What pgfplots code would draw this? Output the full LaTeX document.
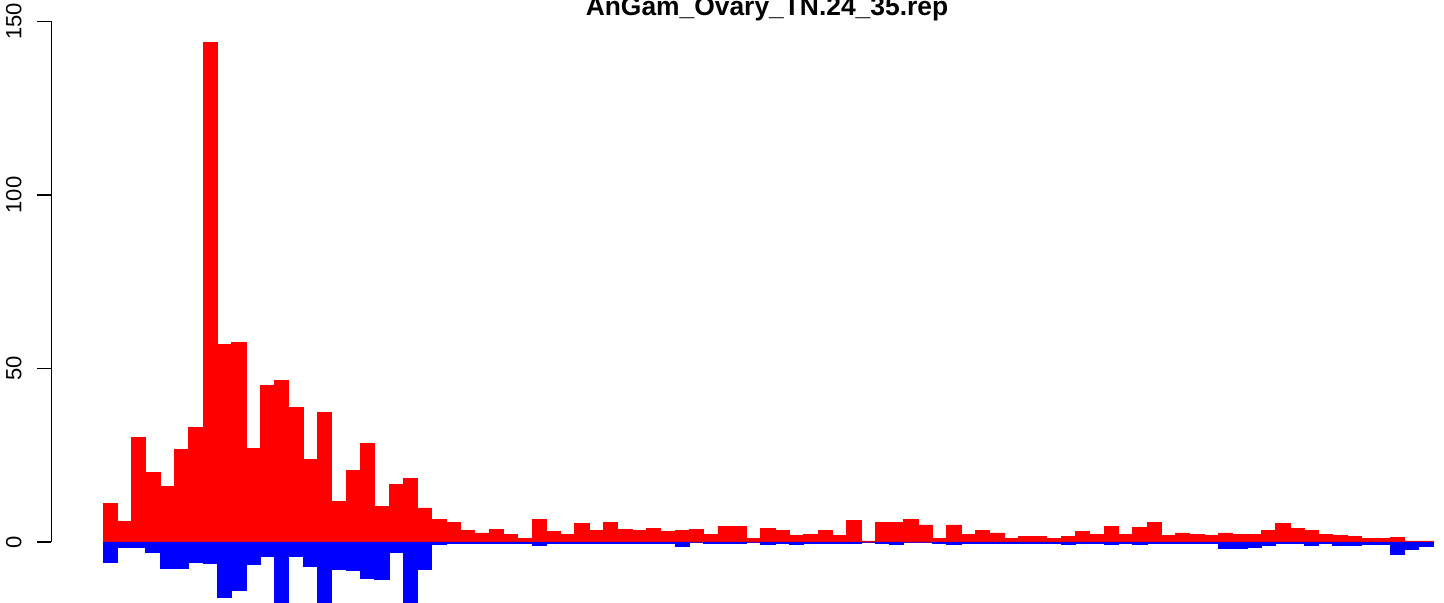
\documentclass[border=0pt]{standalone}
\usepackage{fontspec}
\setmainfont{Liberation Sans}
\usepackage{pgfplots}
\usepackage{pgfplotstable}
\pgfplotsset{compat=1.18}
\pgfplotstableread{
i pos neg
1 11 -6.0
2 5.8 -1.7
3 30.2 -1.7
4 20.1 -2.9
5 16.1 -7.7
6 26.7 -7.7
7 33.0 -6.0
8 144 -6.2
9 56.9 -16.0
10 57.5 -14.0
11 27.0 -6.5
12 45.1 -4.3
13 46.6 -20
14 38.8 -4.3
15 23.8 -7.1
16 37.4 -20
17 11.8 -8.0
18 20.7 -8.2
19 28.4 -10.5
20 10.3 -10.8
21 16.7 -3.1
22 18.4 -20
23 9.8 -8.0
24 6.6 -0.8
25 5.5 -0.3
26 3.45 -0.3
27 2.6 -0.3
28 3.7 -0.3
29 2.3 -0.5
30 1.15 -0.3
31 6.6 -1.1
32 2.9 -0.3
33 2.3 -0.3
34 5.2 -0.3
35 3.45 -0.3
36 5.5 -0.3
37 3.7 -0.3
38 3.45 -0.3
39 4.0 -0.5
40 2.9 -0.3
41 3.2 -1.4
42 3.7 0
43 2.3 -0.3
44 4.6 -0.5
45 4.6 -0.3
46 1.15 0
47 4.0 -0.8
48 3.45 -0.3
49 2.0 -0.8
50 2.3 -0.4
51 3.45 -0.3
52 2.0 -0.3
53 6.3 -0.5
54 0.3 0
55 5.75 -0.3
56 5.5 -0.8
57 6.6 0
58 4.9 0
59 1.15 -0.3
60 4.9 -0.8
61 2.3 -0.5
62 3.45 -0.3
63 2.6 -0.3
64 0.9 -0.5
65 1.7 -0.3
66 1.7 -0.5
67 0.9 -0.3
68 1.7 -0.8
69 2.9 -0.3
70 2.3 -0.3
71 4.6 -0.8
72 2.3 -0.3
73 4.3 -0.8
74 5.75 -0.3
75 2.0 -0.5
76 2.6 -0.5
77 2.3 -0.3
78 2.0 -0.3
79 2.6 -1.9
80 2.3 -1.9
81 2.3 -1.6
82 3.2 -1.1
83 5.2 -0.5
84 4.0 -0.5
85 3.45 -1.1
86 2.3 -0.5
87 2.0 -1.1
88 1.7 -1.1
89 0.9 -0.8
90 0.9 -0.8
91 1.4 -3.7
92 0.3 -2.2
93 0.3 -1.3
}\datatable
\begin{document}
\begin{tikzpicture}
\useasboundingbox (0,0) rectangle (722pt,301.5pt);
\begin{axis}[
  at={(25.5pt,0pt)}, anchor=south west,
  scale only axis, width=696.5pt, height=301.5pt,
  xmin=-3.136, xmax=94.269, ymin=-17.58, ymax=156.2,
  hide x axis,
  axis y line*=left,
  y axis line style={draw=none},
  ytick={0,50,100,150},
  tick align=outside,
  major tick length=7pt,
  tick style={black, line width=0.6pt},
  /pgf/number format/assume math mode=true,
  yticklabel style={rotate=90, anchor=south, inner xsep=0pt, inner ysep=7.5pt, font=\fontsize{11}{13}\selectfont},
  ybar, bar width=1, bar shift=0pt,
]
\addplot[fill=red, draw=red, line width=0.45pt] table[x=i, y=pos] {\datatable};
\addplot[fill=blue, draw=blue, line width=0.45pt] table[x=i, y=neg] {\datatable};
\draw[black, line width=0.6pt] (axis cs:-3.136,0) -- (axis cs:-3.136,150);
\end{axis}
\node[anchor=base, font=\bfseries\fontsize{13.2}{15}\selectfont] at (383.5pt,293.5pt) {AnGam\_Ovary\_TN.24\_35.rep};
\end{tikzpicture}
\end{document}
